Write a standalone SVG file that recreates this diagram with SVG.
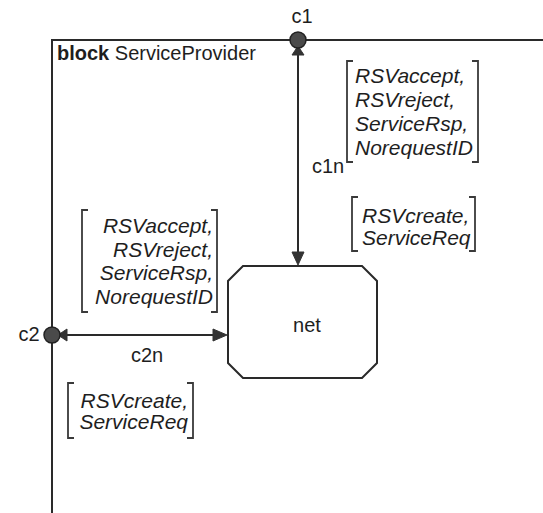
<svg xmlns="http://www.w3.org/2000/svg" width="543" height="513" viewBox="0 0 543 513">
  <style>
    .ln { stroke: #2a2a2a; stroke-width: 2; fill: none; }
    .br { stroke: #3a3a3a; stroke-width: 1.8; fill: none; }
    .port { fill: #4a4a4a; stroke: #222; stroke-width: 1.5; }
    .ah { fill: #333; stroke: #333; stroke-width: 1; }
    .t { font-family: "Liberation Sans", Arial, sans-serif; font-size: 20px; fill: #1e1e1e; }
    .sig { font-family: "Liberation Sans", Arial, sans-serif; font-size: 21px; font-style: italic; fill: #1e1e1e; }
  </style>
  <rect width="543" height="513" fill="#ffffff"/>

  <g id="block-ServiceProvider">
    <path class="ln" d="M52,513 V40 H543"/>
    <text class="t" x="57" y="60"><tspan font-weight="bold">block</tspan> ServiceProvider</text>
  </g>

  <g id="net">
    <polygon class="ln" points="243,266 362,266 377,281 377,363 362,378 243,378 228,363 228,281"/>
    <text class="t" x="307" y="332" text-anchor="middle" font-size="21">net</text>
  </g>

  <g id="connectors">
    <g id="c1n">
      <line class="ln" x1="298" y1="50" x2="298" y2="254"/>
      <polygon class="ah" points="298,265 292,252 304,252"/>
      <polygon class="ah" points="298,46 292,55 304,55"/>
      <text class="t" x="312" y="173">c1n</text>
    </g>
    <g id="c2n">
      <line class="ln" x1="62" y1="335" x2="216" y2="335"/>
      <polygon class="ah" points="227,335 213,329 213,341"/>
      <polygon class="ah" points="58,335 67,329 67,341"/>
      <text class="t" x="147" y="362" text-anchor="middle">c2n</text>
    </g>
  </g>

  <g id="port-c1">
    <circle class="port" cx="298" cy="40" r="8"/>
    <text class="t" x="302" y="23" text-anchor="middle">c1</text>
  </g>

  <g id="port-c2">
    <circle class="port" cx="52" cy="335" r="8"/>
    <text class="t" x="29" y="341" text-anchor="middle">c2</text>
  </g>

  <g id="signals-c1n-out">
    <path class="br" d="M353,61 H347 V162 H353 M472,61 H478 V162 H472"/>
    <text class="sig" x="355" y="83">RSVaccept,</text>
    <text class="sig" x="355" y="107">RSVreject,</text>
    <text class="sig" x="355" y="131">ServiceRsp,</text>
    <text class="sig" x="355" y="155">NorequestID</text>
  </g>

  <g id="signals-c1n-in">
    <path class="br" d="M358,197 H352 V251 H358 M469,197 H475 V251 H469"/>
    <text class="sig" x="362" y="223">RSVcreate,</text>
    <text class="sig" x="362" y="245">ServiceReq</text>
  </g>

  <g id="signals-c2n-out">
    <path class="br" d="M88,210 H82 V312 H88 M211,210 H217 V312 H211"/>
    <text class="sig" x="213" y="233" text-anchor="end">RSVaccept,</text>
    <text class="sig" x="213" y="257" text-anchor="end">RSVreject,</text>
    <text class="sig" x="213" y="280" text-anchor="end">ServiceRsp,</text>
    <text class="sig" x="213" y="304" text-anchor="end">NorequestID</text>
  </g>

  <g id="signals-c2n-in">
    <path class="br" d="M74,383 H68 V438 H74 M187,383 H193 V438 H187"/>
    <text class="sig" x="188" y="408" text-anchor="end">RSVcreate,</text>
    <text class="sig" x="188" y="429" text-anchor="end">ServiceReq</text>
  </g>
</svg>
